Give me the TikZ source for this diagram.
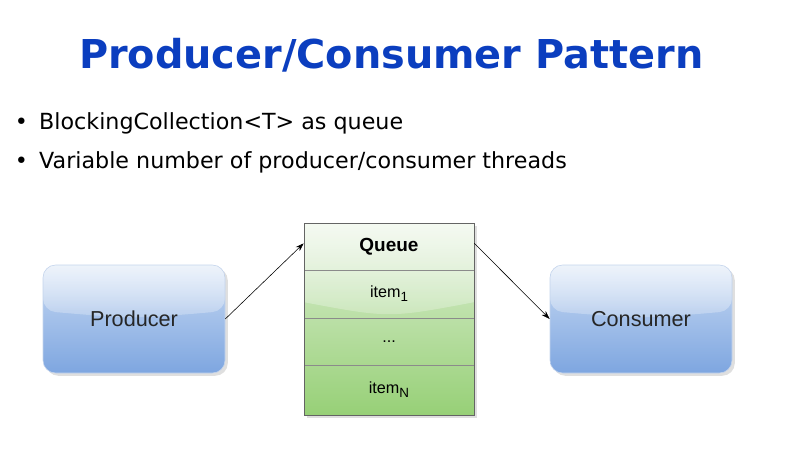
\documentclass[tikz,border=0pt]{standalone}
\usepackage{fontspec}
\setmainfont{DejaVu Sans}
\newfontfamily\boxfont{Liberation Sans}
\usetikzlibrary{arrows.meta,shadows,fadings}
\definecolor{titleblue}{RGB}{11, 62, 191}
\definecolor{prodtop}{RGB}{200, 218, 243}
\definecolor{prodbottom}{RGB}{126, 166, 224}
\definecolor{prodline}{RGB}{196, 212, 236}
\definecolor{queuetop}{RGB}{222, 239, 213}
\definecolor{queuebottom}{RGB}{151, 208, 119}
\definecolor{queueline}{RGB}{100, 100, 100}
\newcommand{\itemsub}[1]{\raisebox{-0.45ex}{\fontsize{9.5}{11}\selectfont #1}}

\tikzset{
  gloss/.style 2 args={path picture={
    \fill[white, opacity=0.22] (path picture bounding box.north west)
      -- ([yshift=-#1]path picture bounding box.north west)
      .. controls ([yshift=-#1-#2]path picture bounding box.north) ..
      ([yshift=-#1]path picture bounding box.north east)
      -- (path picture bounding box.north east) -- cycle;
    \fill[white, opacity=0.6, path fading=south] (path picture bounding box.north west)
      -- ([yshift=-#1]path picture bounding box.north west)
      .. controls ([yshift=-#1-#2]path picture bounding box.north) ..
      ([yshift=-#1]path picture bounding box.north east)
      -- (path picture bounding box.north east) -- cycle;}},
  actor/.style={rectangle, rounded corners=9pt, draw=prodline,
    top color=prodtop, bottom color=prodbottom, gloss={1.15cm}{0.2cm},
    minimum width=4.55cm, minimum height=2.7cm,
    font=\boxfont\fontsize{15.4}{18}\selectfont, text=black!85,
    drop shadow={opacity=0.25, shadow xshift=2pt, shadow yshift=-2pt}},
  row/.style={rectangle, draw=queueline!75, minimum width=4.25cm,
    font=\boxfont\fontsize{11.5}{14}\selectfont},
  bullet/.style={anchor=west, font=\fontsize{15.8}{19}\selectfont}
}

\begin{document}
\begin{tikzpicture}
\useasboundingbox (0, 0) rectangle (20, 11.25);

\node [font=\bfseries\fontsize{28.3}{34}\selectfont, text=titleblue]
  (title) at (9.78, 9.88) {Producer/Consumer Pattern};
\node [bullet] (bulletone) at (0.25, 8.17) {\textbullet\hspace{0.5em}BlockingCollection<T> as queue};
\node [bullet] (bullettwo) at (0.25, 7.2) {\textbullet\hspace{0.5em}Variable number of producer/consumer threads};

\node [actor] (producer) at (3.35, 3.275) {Producer};
\node [actor] (consumer) at (16.025, 3.275) {Consumer};

% queue column
\path [top color=queuetop, bottom color=queuebottom, gloss={1.98cm}{0.4cm},
  drop shadow={opacity=0.25, shadow xshift=2pt, shadow yshift=-2pt}]
  (7.6, 0.875) rectangle (11.85, 5.675);
\node [row, minimum height=1.175cm, font=\boxfont\bfseries\fontsize{13.5}{16}\selectfont]
  (qhead) at (9.725, 5.0875) {Queue};
\node [row, minimum height=1.2cm] (qitemone) at (9.725, 3.9) {item\itemsub{1}};
\node [row, minimum height=1.175cm] (qdots) at (9.725, 2.7125) {...};
\node [row, minimum height=1.25cm] (qitemn) at (9.725, 1.5) {item\itemsub{N}};
\draw [queueline] (7.6, 0.875) rectangle (11.85, 5.675);

\draw [-{Stealth[length=6pt, width=4pt]}] (producer.east) -- ([yshift=0.08cm]qhead.west);
\draw [-{Stealth[length=6pt, width=4pt]}] ([yshift=0.08cm]qhead.east) -- (consumer.west);
\end{tikzpicture}
\end{document}
